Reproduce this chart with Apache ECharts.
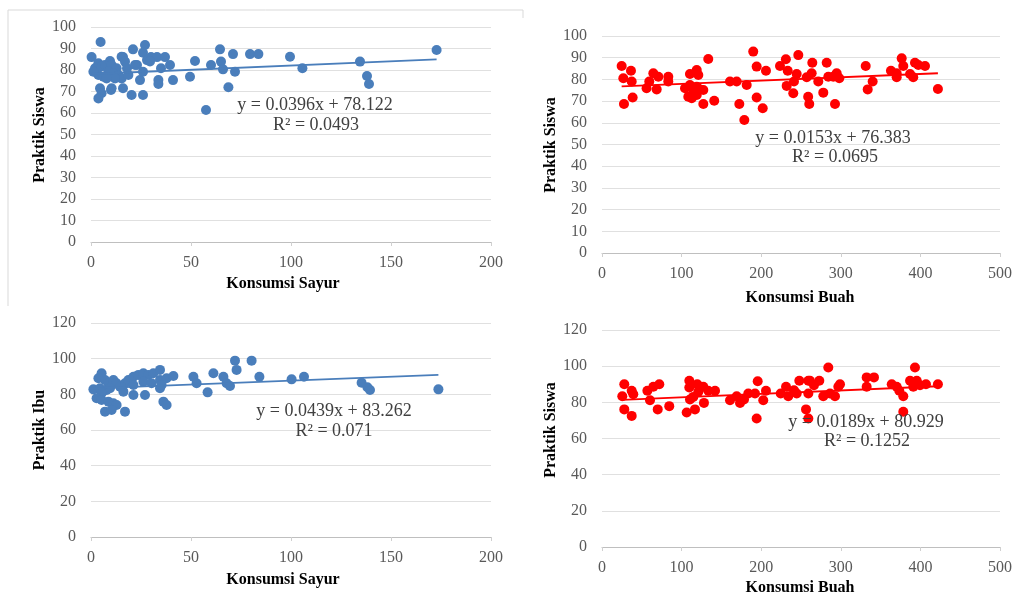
<!DOCTYPE html>
<html>
<head>
<meta charset="utf-8">
<script src="https://cdn.jsdelivr.net/npm/echarts@6/dist/echarts.min.js"></script>
<style>html,body{margin:0;padding:0;background:#fff;}#c{width:1026px;height:605px;}</style>
</head>
<body>
<div id="c"></div>
<script>
// Panel 1: Konsumsi Sayur vs Praktik Siswa
const sayurSiswa = [[0.3,86],[4.8,93],[21,89.6],[27,91.6],[26,88],[16,86],[30,86],[33,86],[37,86],[28,84.6],[29.5,84],[23,82.3],[39.5,82.3],[35,80.8],[52,84.2],[64.5,89.6],[71,87.4],[79.5,87.4],[83.7,87.4],[60,82.3],[65,83.9],[66,80.3],[72,79.2],[49.5,76.9],[41,75.3],[33.7,75.3],[33.7,73.5],[24.5,75.3],[68.7,72],[57.5,61.4],[26,68.4],[20.3,68.4],[16,71.5],[10,70.7],[4.5,71.5],[5.3,69.2],[3.7,66.8],[3.7,83.1],[2,80.8],[5.3,81.6],[7,82.3],[9.5,84.2],[10.3,82.3],[12.8,80.8],[15.3,86.2],[17,83.9],[8.7,79.2],[11.2,78.5],[13.7,77.7],[3.7,77.7],[6.2,76.9],[15.3,76.1],[10.3,71.5],[18.7,77.7],[12,76.1],[7.8,76.1],[1.2,79.2],[18,80.8],[22,82.3],[26,79.2],[99.5,86.2],[105.7,80.8],[134.5,83.9],[138,77.2],[139,73.5],[172.8,89.3]];
// Panel 2: Konsumsi Buah vs Praktik Siswa
const buahSiswa = [[24.7,86.2],[36.4,84],[26.8,80.5],[37.3,79],[27.6,68.7],[38.5,71.7],[56,75.9],[64.5,82.8],[59.4,79],[70.8,81.2],[68.7,75.4],[83.3,81.2],[83.3,79],[110.5,82.5],[119,84.3],[121,82],[133.5,89.4],[104.3,75.9],[110.5,77.4],[114.7,75.1],[119,76.6],[123.1,75.4],[127.3,75.1],[108.4,72],[112.7,71.3],[119,72.8],[127.3,68.7],[141,70.2],[160.8,79],[169.2,79],[181.8,77.4],[172.5,68.7],[178.8,61.3],[190,92.8],[194.3,85.9],[206,84],[194.3,71.7],[201.9,66.7],[223.6,86.2],[231,89.3],[233.3,84],[246.6,91.2],[244.6,82.5],[241.2,79],[232,77],[240.3,73.6],[257.2,81],[259,72],[263.4,82.8],[264.2,87.7],[271.7,79],[282.3,87.7],[284.3,81.2],[290.6,81.2],[294.8,82.8],[298.1,80.5],[278,73.9],[260.4,68.7],[292.7,68.7],[331.3,86.2],[340,79],[333.8,75.4],[363,84],[370.2,82.8],[376.5,89.7],[378.5,86.2],[370.2,81],[387,82.5],[391,81],[393.2,87.7],[397.4,86.6],[405.8,86.2],[422,75.6]];
// Panel 3: Konsumsi Sayur vs Praktik Ibu
const sayurIbu = [[1.2,82.8],[5.3,91.8],[3.7,89],[7,88],[8.7,86.2],[11.2,88],[12.8,86.2],[4.5,83.4],[7.8,82.4],[5.3,80.6],[9.5,83.4],[2.8,77.8],[5.3,76.8],[8.7,75.9],[11.2,75],[12.8,74],[7,70.3],[10.3,71.2],[17,70.3],[14.5,84.3],[17,86.2],[16.2,81.5],[18.7,88],[21.2,89.9],[23.7,90.9],[26.2,91.8],[28.7,90.9],[31.2,91.8],[34.5,93.7],[21.2,85.2],[26.2,87.1],[30.3,86.2],[34.5,88],[37.8,89],[41.2,90.3],[21.2,79.6],[27,79.6],[34.5,83.4],[35.3,85.2],[36.2,75.9],[37.8,74],[51.2,89.9],[52.8,86.2],[58.3,81.1],[61.2,91.8],[66.2,89.9],[67.8,86.2],[69.5,84.7],[72,98.9],[72.8,93.7],[80.3,98.9],[84.2,89.9],[100.3,88.4],[106.5,89.9],[135.3,86.5],[138.2,84],[139.5,82.4],[173.7,82.8]];
// Panel 4: Konsumsi Buah vs Praktik Siswa
const buahSiswa2 = [[28,90],[25.5,83.4],[37.3,86.4],[39.3,84.5],[28,76.1],[37.3,72.5],[57,86.4],[64.5,88.6],[72,90],[60.3,81.2],[70,76.1],[84.5,77.9],[109.7,91.9],[109.7,88.2],[119.7,90],[127.3,88.6],[121,85.8],[133.5,86.4],[142,86.4],[110.5,81.6],[114.7,83],[106.4,74.4],[116.8,76.1],[128.1,79.7],[160.8,81.2],[169.2,83.4],[173.4,79.7],[178.4,81.6],[183.8,84.9],[192.2,84.9],[195.6,91.7],[202.6,81.2],[194.3,71.1],[206,86.4],[224.5,84.9],[231.2,88.6],[234,83.4],[241.2,86.7],[247.9,91.9],[244.6,84.9],[259.2,91.9],[256.3,76.1],[259.2,71.1],[261.3,91.9],[266.3,89.5],[273,91.9],[259.2,84.9],[284.3,99.3],[278,83.4],[286.4,84.9],[292.7,83.4],[296.9,88.6],[299,90],[332.5,88.6],[332.5,93.8],[341.7,93.8],[364,90],[370.2,88.6],[373.5,86.4],[378.5,83.4],[378.5,74.8],[387,91.9],[393.2,99.3],[395.4,91.9],[391.1,88.6],[399.5,89.5],[407,90],[422,90]];

// Trendline coefficients [slope, intercept] and labels
const trends = [[0.0396,78.122],[0.0153,76.383],[0.0439,83.262],[0.0189,80.929]];
const eqLabels = ['y = 0.0396x + 78.122','y = 0.0153x + 76.383','y = 0.0439x + 83.262','y = 0.0189x + 80.929'];
const r2Labels = ['R\u00b2 = 0.0493','R\u00b2 = 0.0695','R\u00b2 = 0.071','R\u00b2 = 0.1252'];
const xTitles = ['Konsumsi Sayur','Konsumsi Buah','Konsumsi Sayur','Konsumsi Buah'];
const yTitles = ['Praktik Siswa','Praktik Siswa','Praktik Ibu','Praktik Siswa'];

const datasets = [sayurSiswa, buahSiswa, sayurIbu, buahSiswa2];
const colors = ['#4A7EBB','#FF0000','#4A7EBB','#FF0000'];
const xMax = [200,500,200,500], xInt = [50,100,50,100];
const yMax = [100,100,120,120], yInt = [10,10,20,20];

const grids = [
  {left:91, top:27, width:400, height:215},
  {left:602, top:36, width:398, height:217},
  {left:91, top:323, width:400, height:214},
  {left:602, top:330, width:398, height:217}
];
const FONT = '"Liberation Serif","Times New Roman",serif';

function trendLine(d, t){
  const xs = d.map(p=>p[0]);
  const a = Math.min(...xs), b = Math.max(...xs);
  return [[a, t[0]*a+t[1]],[b, t[0]*b+t[1]]];
}

const xAxes = [], yAxes = [], series = [], graphics = [];
for (let i=0;i<4;i++){
  xAxes.push({gridIndex:i, type:'value', min:0, max:xMax[i], interval:xInt[i],
    axisLine:{show:true, lineStyle:{color:'#bfbfbf'}},
    axisTick:{show:true, length:4, lineStyle:{color:'#d0d0d0'}},
    splitLine:{show:false},
    axisLabel:{fontFamily:FONT, fontSize:16, color:'#595959', margin:13}});
  yAxes.push({gridIndex:i, type:'value', min:0, max:yMax[i], interval:yInt[i],
    axisLine:{show:false}, axisTick:{show:false},
    splitLine:{show:true, lineStyle:{color:'#e0e0e0'}},
    axisLabel:{fontFamily:FONT, fontSize:16, color:'#595959', margin:15}});
  series.push({type:'scatter', xAxisIndex:i, yAxisIndex:i, data:datasets[i],
    symbolSize:10, itemStyle:{color:colors[i], opacity:1}, z:2});
  series.push({type:'line', xAxisIndex:i, yAxisIndex:i, data:trendLine(datasets[i], trends[i]),
    showSymbol:false, lineStyle:{color:colors[i], width:1.8}, z:3});
}

const xTitlePos = [[283,284],[800,298],[283,580],[800,588]];
const yTitlePos = [[40,135],[551,145],[40,430],[551,430]];
const eqPos = [[315,105],[833,138],[334,411],[866,422]];
const r2Pos = [[316,125],[835,157],[334,431],[867,441]];
for (let i=0;i<4;i++){
  graphics.push({type:'text', x:xTitlePos[i][0], y:xTitlePos[i][1],
    style:{text:xTitles[i], font:'bold 16px '+FONT, fill:'#000', textAlign:'center', textVerticalAlign:'middle'}});
  graphics.push({type:'text', x:yTitlePos[i][0], y:yTitlePos[i][1], rotation:Math.PI/2,
    style:{text:yTitles[i], font:'bold 16px '+FONT, fill:'#000', textAlign:'center', textVerticalAlign:'middle'}});
  graphics.push({type:'text', x:eqPos[i][0], y:eqPos[i][1], z:10,
    style:{text:eqLabels[i], font:'18px '+FONT, fill:'#404040', textAlign:'center', textVerticalAlign:'middle'}});
  graphics.push({type:'text', x:r2Pos[i][0], y:r2Pos[i][1], z:10,
    style:{text:r2Labels[i], font:'18px '+FONT, fill:'#404040', textAlign:'center', textVerticalAlign:'middle'}});
}
// light frame around the first panel
graphics.push({type:'polyline', shape:{points:[[8,306],[8,10],[523,10],[523,18]]},
  style:{stroke:'#d9d9d9', fill:null, lineWidth:1}, z:-1});

const chart = echarts.init(document.getElementById('c'), null, {renderer:'canvas'});
chart.setOption({
  animation:false,
  backgroundColor:'#fff',
  grid:grids,
  xAxis:xAxes,
  yAxis:yAxes,
  series:series,
  graphic:graphics
});
</script>
</body>
</html>
